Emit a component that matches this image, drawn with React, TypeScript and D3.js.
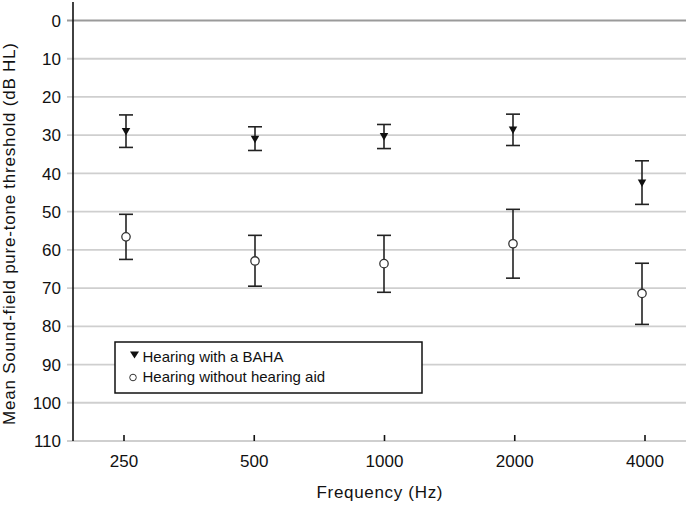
import React from "react";
import * as d3 from "d3";

const frequencies = [250, 500, 1000, 2000, 4000];
const bahaMean = [29.1, 31.1, 30.4, 28.7, 42.6];
const bahaLow = [24.7, 27.8, 27.2, 24.5, 36.7];
const bahaHigh = [33.2, 34.0, 33.5, 32.7, 48.1];
const unaidedMean = [56.6, 62.9, 63.6, 58.4, 71.4];
const unaidedLow = [50.7, 56.2, 56.2, 49.4, 63.5];
const unaidedHigh = [62.5, 69.5, 71.1, 67.4, 79.5];
const yTicks = [0, 10, 20, 30, 40, 50, 60, 70, 80, 90, 100, 110];
const legendLabels = ["Hearing with a BAHA", "Hearing without hearing aid"];

const W = 688;
const H = 506;
const FONT = "Liberation Sans, Arial, sans-serif";

export default function App() {
  const y = d3.scaleLinear().domain([0, 110]).range([20.5, 441]);
  const xTick = d3.scaleLog().base(2).domain([250, 4000]).range([124, 645]);
  const xPt = d3.scaleLog().base(2).domain([250, 4000]).range([126, 642]);
  const axisX = 73;
  const gridRight = 686;
  const cap = 7;

  const triPath = (cx: number, cy: number, w = 8.5, h = 7.5) =>
    `M${cx - w / 2},${cy - h / 2}L${cx + w / 2},${cy - h / 2}L${cx},${cy + h / 2}Z`;

  const errBar = (x: number, lo: number, hi: number, key: string) => (
    <g key={key} stroke="#222" strokeWidth={1.6} fill="none">
      <line x1={x} x2={x} y1={y(lo)} y2={y(hi)} />
      <line x1={x - cap} x2={x + cap} y1={y(lo)} y2={y(lo)} />
      <line x1={x - cap} x2={x + cap} y1={y(hi)} y2={y(hi)} />
    </g>
  );

  return (
    <svg width={W} height={H} style={{ position: "absolute", left: 0, top: 0 }} fontFamily={FONT}>
      <rect width={W} height={H} fill="#fff" />
      {yTicks.map((t) => (
        <g key={"g" + t}>
          <line
            x1={67}
            x2={gridRight}
            y1={y(t)}
            y2={y(t)}
            stroke={t === 0 ? "#9a9a9a" : "#cfcfcf"}
            strokeWidth={t === 0 ? 2 : 1.8}
          />
          <text x={61} y={y(t)} dy="0.36em" textAnchor="end" fontSize={17} fill="#111">
            {t}
          </text>
        </g>
      ))}
      <line x1={axisX} x2={axisX} y1={2} y2={441} stroke="#111" strokeWidth={1.6} />
      {frequencies.map((f) => (
        <g key={"x" + f}>
          <line x1={xTick(f)} x2={xTick(f)} y1={435} y2={441} stroke="#111" strokeWidth={1.6} />
          <text x={xTick(f)} y={467} textAnchor="middle" fontSize={17} fill="#111">
            {f}
          </text>
        </g>
      ))}
      <text x={379.5} y={498} textAnchor="middle" fontSize={17} fill="#111" textLength={126} lengthAdjust="spacing">
        Frequency (Hz)
      </text>
      <text
        transform={`translate(15,234) rotate(-90)`}
        textAnchor="middle"
        fontSize={17}
        fill="#111"
        textLength={382}
        lengthAdjust="spacing"
      >
        Mean Sound-field pure-tone threshold (dB HL)
      </text>

      {frequencies.map((f, i) => errBar(xPt(f), bahaLow[i], bahaHigh[i], "be" + i))}
      {frequencies.map((f, i) => errBar(xPt(f), unaidedLow[i], unaidedHigh[i], "ue" + i))}
      {frequencies.map((f, i) => (
        <path key={"bt" + i} d={triPath(xPt(f), y(bahaMean[i]))} fill="#111" />
      ))}
      {frequencies.map((f, i) => (
        <circle key={"uc" + i} cx={xPt(f)} cy={y(unaidedMean[i])} r={4.2} fill="#fff" stroke="#333" strokeWidth={1.3} />
      ))}

      <rect x={115} y={342} width={307} height={51} fill="#fff" stroke="#111" strokeWidth={1.5} />
      <path d={triPath(134.5, 355, 9, 7)} fill="#111" />
      <text x={142.5} y={361.5} fontSize={15} fill="#111">
        {legendLabels[0]}
      </text>
      <circle cx={133} cy={377.5} r={3.3} fill="#fff" stroke="#333" strokeWidth={1} />
      <text x={142.5} y={381.5} fontSize={15} fill="#111">
        {legendLabels[1]}
      </text>
    </svg>
  );
}
